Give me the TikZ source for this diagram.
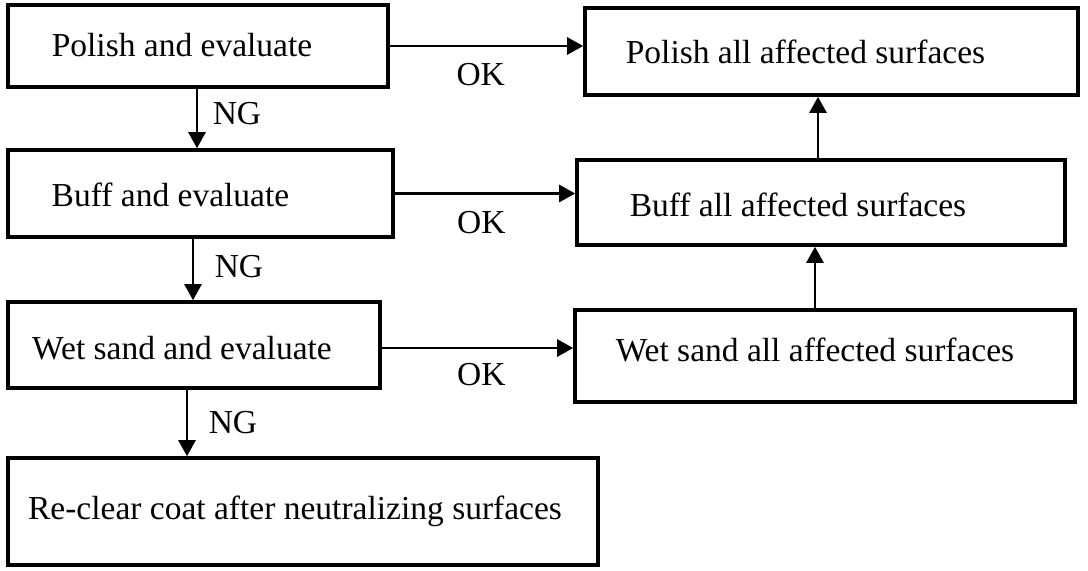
\documentclass[tikz,border=0pt]{standalone}
\usepackage{fontspec}
\setmainfont{Liberation Serif}
\usetikzlibrary{positioning,arrows.meta,calc}

\begin{document}
\begin{tikzpicture}[x=0.5pt, y=-0.5pt,
    every node/.style={font=\fontsize{16.75}{20}\selectfont},
    stepbox/.style={draw, rectangle, line width=1.8pt, inner sep=0pt},
    flow/.style={-{Triangle[length=8pt,width=8.5pt]}, line width=1.3pt}]
    \useasboundingbox (0,0) rectangle (1088,570);

    % Evaluation steps
    \node[stepbox, minimum width=190pt, minimum height=41pt,
        label={[xshift=-8pt, yshift=0.5pt]center:Polish and evaluate}] (polisheval) at (198,46) {};
    \node[stepbox, minimum width=192.5pt, minimum height=43.5pt,
        label={[xshift=-15pt, yshift=-0.5pt]center:Buff and evaluate}] (buffeval) at (200.5,193.5) {};
    \node[stepbox, minimum width=186pt, minimum height=43pt,
        label={[xshift=-6pt, yshift=-1.5pt]center:Wet sand and evaluate}] (wetsandeval) at (194,345) {};
    \node[stepbox, minimum width=295pt, minimum height=53.5pt,
        label={[xshift=-4pt]center:Re-clear coat after neutralizing surfaces}] (reclear) at (303,511.5) {};

    % Repair steps
    \node[stepbox, minimum width=246.5pt, minimum height=43.5pt,
        label={[xshift=-13pt]center:Polish all affected surfaces}] (polishall) at (831.5,51.5) {};
    \node[stepbox, minimum width=244pt, minimum height=42.5pt,
        label={[xshift=-11.5pt, yshift=-1pt]center:Buff all affected surfaces}] (buffall) at (821,202.5) {};
    \node[stepbox, minimum width=250pt, minimum height=46pt,
        label={[xshift=-5pt, yshift=3pt]center:Wet sand all affected surfaces}] (wetsandall) at (825,356) {};

    % OK branches
    \draw[flow] (polisheval.east) -- (polisheval.east -| polishall.west)
        node[pos=.47, yshift=-14.5pt] {OK};
    \draw[flow] (buffeval.east) -- (buffeval.east -| buffall.west)
        node[pos=.48, yshift=-14.5pt] {OK};
    \draw[flow] ([yshift=-1.5pt]wetsandeval.east) -- ([yshift=-1.5pt]wetsandeval.east -| wetsandall.west)
        node[pos=.52, yshift=-13.5pt] {OK};

    % NG branches
    \draw[flow] ([xshift=-0.5pt]polisheval.south) -- ([xshift=-0.5pt]polisheval.south |- buffeval.north)
        node[pos=.42, xshift=20pt] {NG};
    \draw[flow] ([xshift=-3.75pt]buffeval.south) -- ([xshift=-3.75pt]buffeval.south |- wetsandeval.north)
        node[pos=.45, xshift=23pt] {NG};
    \draw[flow] ([xshift=-3.5pt]wetsandeval.south) -- ([xshift=-3.5pt]wetsandeval.south |- reclear.north)
        node[pos=.5, xshift=23pt] {NG};

    % Upward links
    \draw[flow] ([xshift=-1.5pt]buffall.north) -- ([xshift=-1.5pt]buffall.north |- polishall.south);
    \draw[flow] ([xshift=-5pt]wetsandall.north) -- ([xshift=-5pt]wetsandall.north |- buffall.south);
\end{tikzpicture}
\end{document}
